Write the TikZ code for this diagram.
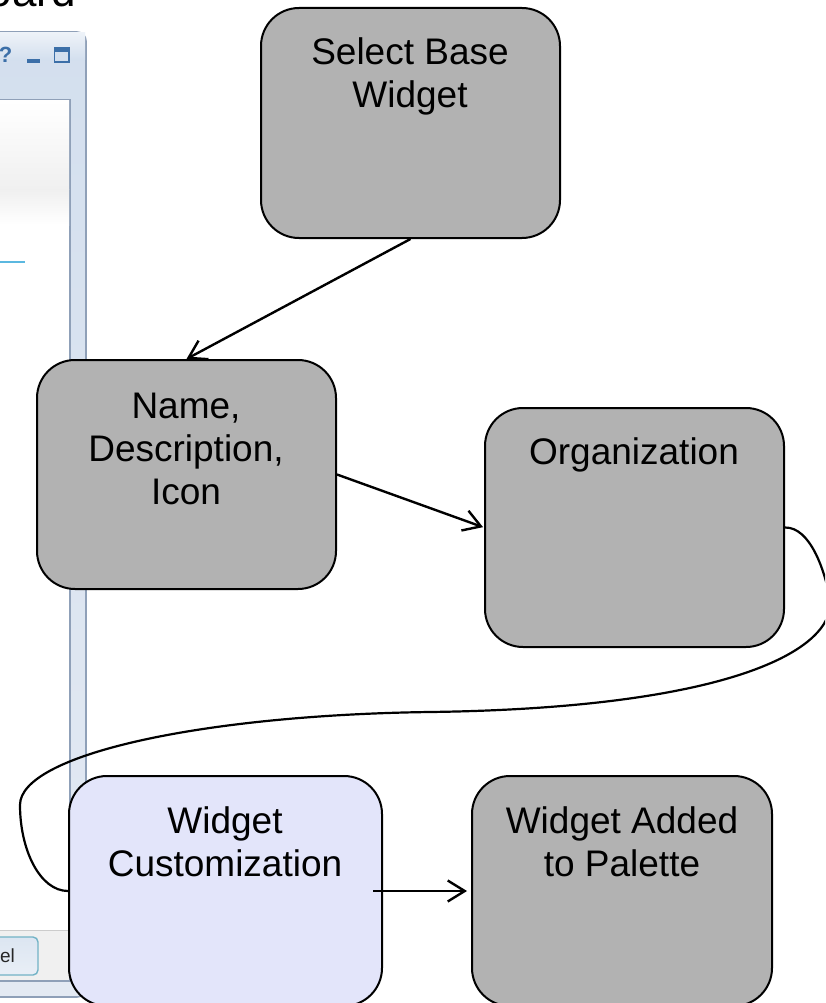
\documentclass[tikz,border=0pt]{standalone}
\usepackage{fontspec}
\setmainfont{Liberation Sans}
\usetikzlibrary{arrows.meta}
\definecolor{boxgray}{HTML}{B2B2B2}
\definecolor{boxblue}{HTML}{E3E5FA}
\definecolor{winfill}{HTML}{D3DFEE}
\definecolor{winlow}{HTML}{E4EAF3}
\definecolor{winedge}{HTML}{8FA0B8}
\definecolor{wicon}{HTML}{3C6FA8}
\definecolor{wline}{HTML}{5BB8E0}
\tikzset{
  flowbox/.style={draw=black,line width=2pt,rounded corners=38pt,fill=boxgray,inner sep=0pt},
  boxtext/.style={align=center,font=\fontsize{37}{43}\selectfont,text=black,inner sep=0pt},
  link/.style={draw=black,line width=2.4pt,-{Straight Barb[length=17pt,width=21pt,line width=2.4pt]}},
  plainlink/.style={draw=black,line width=2.2pt}
}
\begin{document}
\begin{tikzpicture}[x=1pt,y=-1pt]
\useasboundingbox (0,0) rectangle (825,1003);
\clip (0,0) rectangle (825,1003);
\fill[white] (0,0) rectangle (825,1003);
% background window
\draw[winedge,line width=1.6pt,top color=winfill,bottom color=winlow,rounded corners=9pt] (-30,32) rectangle (86,997);
\shade[top color=white!60!winfill,bottom color=winfill] (0,33) rectangle (85,60);
\draw[winedge,line width=1.2pt,fill=white] (-30,100) rectangle (70,981);
\shade[top color=white,bottom color=black!6] (0,101) rectangle (69,190);
\shade[top color=black!6,bottom color=white] (0,190) rectangle (69,225);
\fill[black!6] (0,930) rectangle (69,980);
\draw[black!20,line width=.8pt] (0,930) -- (69,930);
\draw[winedge!80!cyan,line width=1.4pt,top color=winfill!80!white,bottom color=winfill!50!white,rounded corners=5pt] (-30,937) rectangle (38,975);
\draw[wline,line width=1.2pt] (0,262) -- (25,262);
\node[font=\fontsize{19}{19}\selectfont,text=black!85,anchor=base east,inner sep=0pt] (cancel) at (15,962) {el};
\node[font=\bfseries\fontsize{22}{22}\selectfont,text=wicon,inner sep=0pt,anchor=base] (qm) at (5.5,63) {?};
\fill[wicon] (27,59.5) rectangle (40,63);
\draw[wicon,line width=1.4pt,fill=winfill] (54.5,47.5) rectangle (69,62);
\fill[wicon] (54.5,47.5) rectangle (69,52);
\node[font=\fontsize{44}{44}\selectfont,anchor=base east,inner sep=0pt,text=black] (title) at (76,7) {oard};
% boxes
\node[flowbox,minimum width=299pt,minimum height=230pt] (sel) at (410.5,123) {};
\node[flowbox,minimum width=299pt,minimum height=229pt] (name) at (186.5,474.5) {};
\node[flowbox,minimum width=299pt,minimum height=239pt] (org) at (634.5,527.5) {};
\node[flowbox,fill=boxblue,minimum width=313pt,minimum height=230pt] (cust) at (225.5,891) {};
\node[flowbox,minimum width=300pt,minimum height=230pt] (add) at (622,891) {};
\node[boxtext] (t1) at (410,76) {Select Base\\Widget};
\node[boxtext] (t2) at (186,449) {Name,\\Description,\\Icon};
\node[boxtext] (t3) at (634,455) {Organization};
\node[boxtext] (t4) at (225,841.5) {Widget\\Customization};
\node[boxtext] (t5) at (622,841.5) {Widget Added\\to Palette};
\draw[link] (sel.south) -- (name.north);
\draw[link,shorten >=1pt] (name.east) -- (org.west);
\draw[link,shorten <=-10pt,shorten >=4pt] (cust.east) -- (add.west);
\draw[plainlink] (org.east) .. controls (810,527) and (825,570) .. (830,600)
  .. controls (835,650) and (730,708) .. (430,712)
  .. controls (200,715) and (20,755) .. (20,805)
  .. controls (20,850) and (40,891) .. (cust.west);
\end{tikzpicture}
\end{document}
